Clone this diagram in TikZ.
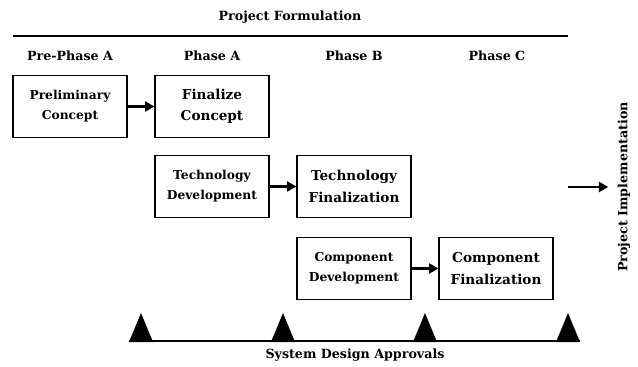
\documentclass[tikz,border=0pt]{standalone}
\usepackage{fontspec}
\setmainfont{DejaVu Serif}
\usetikzlibrary{arrows.meta}

\tikzset{every picture/.style={line width=0.75pt}}
\tikzset{
  label/.style={font=\bfseries\fontsize{9.5}{11}\selectfont, inner sep=0.75pt},
  stepbox/.style={draw, line width=0.9pt, minimum width=85.5pt, minimum height=46pt, align=center, inner sep=1pt},
  smalltxt/.style={font=\bfseries\fontsize{9.2}{15}\selectfont},
  bigtxt/.style={font=\bfseries\fontsize{10.2}{16}\selectfont},
  flow/.style={line width=1.6pt, -{Triangle[length=7pt,width=7.5pt]}},
}

\begin{document}
\begin{tikzpicture}[x=0.75pt,y=0.75pt,yscale=-1,xscale=1]
	\useasboundingbox (0,0) rectangle (638,367);
	
	% Text Node
	\node [label] (form) at (290,17) {Project Formulation};
	%Straight Lines
	\draw [line width=2.2pt] (13,36) -- (568,36);
	
	% phase headings
	\node [label] (pre) at (70,56) {Pre-Phase A};
	\node [label] (pa) at (212,56) {Phase A};
	\node [label] (pb) at (354,56) {Phase B};
	\node [label] (pc) at (497,56) {Phase C};
	
	%Shape: Rectangle
	\node [stepbox, smalltxt] (prelim) at (70,106.5) {Preliminary\\Concept};
	\node [stepbox, bigtxt] (finconc) at (212,106.5) {Finalize\\Concept};
	\node [stepbox, smalltxt] (techdev) at (212,186.5) {Technology\\Development};
	\node [stepbox, bigtxt] (techfin) at (354,186.5) {Technology\\Finalization};
	\node [stepbox, smalltxt] (compdev) at (354,268.5) {Component\\Development};
	\node [stepbox, bigtxt] (compfin) at (496,268.5) {Component\\Finalization};
	
	% arrows between boxes
	\draw [flow] (prelim) -- (finconc);
	\draw [flow] (techdev) -- (techfin);
	\draw [flow] (compdev) -- (compfin);
	
	% exit to implementation
	\coordinate (out) at (568,187);
	\node [label, rotate=90] (impl) at (624,187) {Project Implementation};
	\draw [flow, shorten >=6pt] (out) -- (impl.north);
	
	% approvals line and milestones
	\draw [line width=1.8pt] (129,341) -- (580,341);
	\foreach \mx in {141,283,425,568} {
		\fill (\mx-12,342) -- (\mx,313) -- (\mx+12,342) -- cycle;
	}
	\node [label] (appr) at (355,355) {System Design Approvals};
\end{tikzpicture}
\end{document}
